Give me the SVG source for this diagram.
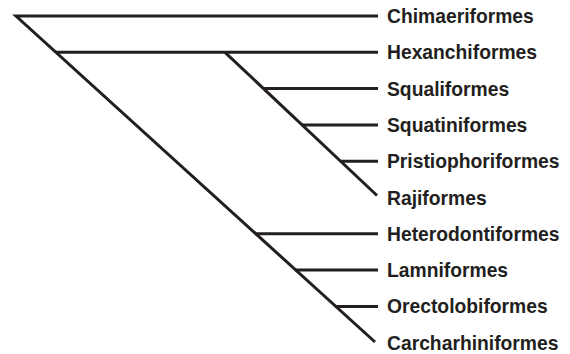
<svg xmlns="http://www.w3.org/2000/svg" width="570" height="354" viewBox="0 0 570 354">
<style>
.edge{stroke:#231f20;stroke-width:3;fill:none;stroke-linecap:butt;stroke-linejoin:miter}
.lbl{font-family:"Liberation Sans",Arial,sans-serif;font-weight:bold;font-size:19.3px;fill:#231f20}
</style>
<rect width="570" height="354" fill="#ffffff"/>
<g id="connectors">
<path class="edge" d="M378,16 H16 L375,342"/>
<path class="edge" d="M56,52.3 H378"/>
<path class="edge" d="M225,52.3 L377,195.5"/>
<path class="edge" d="M264,88.6 H378"/>
<path class="edge" d="M302,124.9 H378"/>
<path class="edge" d="M341,161.2 H378"/>
<path class="edge" d="M255,233.8 H378"/>
<path class="edge" d="M295,270.1 H378"/>
<path class="edge" d="M335,306.4 H378"/>
</g>
<g id="Chimaeriformes"><text class="lbl" x="387" y="23">Chimaeriformes</text></g>
<g id="Hexanchiformes"><text class="lbl" x="387" y="59.3">Hexanchiformes</text></g>
<g id="Squaliformes"><text class="lbl" x="387" y="95.6">Squaliformes</text></g>
<g id="Squatiniformes"><text class="lbl" x="387" y="131.9">Squatiniformes</text></g>
<g id="Pristiophoriformes"><text class="lbl" x="387" y="168.2">Pristiophoriformes</text></g>
<g id="Rajiformes"><text class="lbl" x="387" y="204.5">Rajiformes</text></g>
<g id="Heterodontiformes"><text class="lbl" x="387" y="240.8">Heterodontiformes</text></g>
<g id="Lamniformes"><text class="lbl" x="387" y="277.1">Lamniformes</text></g>
<g id="Orectolobiformes"><text class="lbl" x="387" y="313.4">Orectolobiformes</text></g>
<g id="Carcharhiniformes"><text class="lbl" x="387" y="349.7">Carcharhiniformes</text></g>
</svg>
